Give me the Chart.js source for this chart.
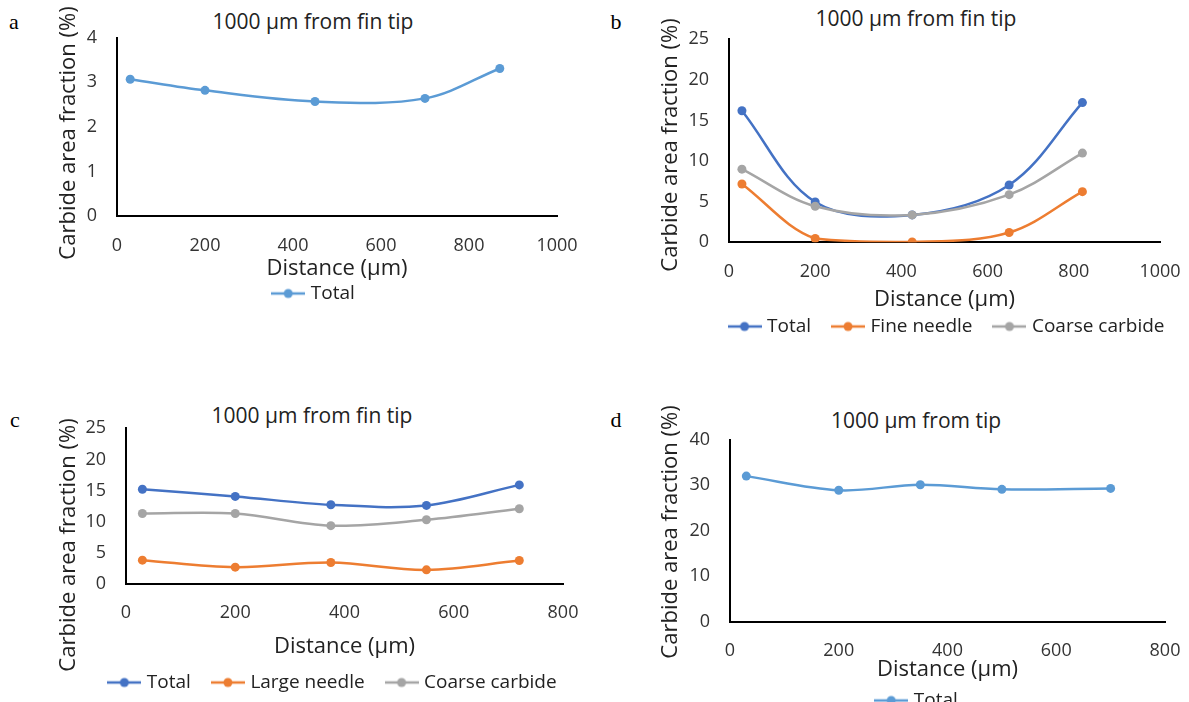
<!DOCTYPE html>
<html>
<head>
<meta charset="utf-8">
<script src="https://cdn.jsdelivr.net/npm/chart.js@4"></script>
<style>
  html, body { margin: 0; padding: 0; background: #fff; overflow: hidden; }
  body { width: 1189px; height: 702px; position: relative; }
  canvas { position: absolute; }
  .tag { position: absolute; font-family: "Liberation Serif", serif; font-size: 22px; line-height: 24px; color: #000; transform: translateX(-50%); }
  .ttl { position: absolute; font-family: "Open Sans", sans-serif; font-size: 21px; line-height: 24px; color: #222; white-space: nowrap; transform: translateX(-50%); }
  .ytl { position: absolute; font-family: "Open Sans", sans-serif; font-size: 22px; line-height: 26px; color: #222; white-space: nowrap; transform: translate(-50%, -50%) rotate(-90deg); z-index: 2; }
</style>
</head>
<body>
<div class="tag" style="left:14px;top:10px">a</div>
<div class="tag" style="left:616px;top:10px">b</div>
<div class="tag" style="left:15px;top:408px">c</div>
<div class="tag" style="left:616px;top:408px">d</div>
<div class="ttl" style="left:313px;top:9px">1000 µm from fin tip</div>
<div class="ttl" style="left:916px;top:6px">1000 µm from fin tip</div>
<div class="ttl" style="left:312px;top:403px">1000 µm from fin tip</div>
<div class="ttl" style="left:916px;top:408px">1000 µm from tip</div>
<div class="ytl" style="left:66px;top:133px">Carbide area fraction (%)</div>
<div class="ytl" style="left:668px;top:145px">Carbide area fraction (%)</div>
<div class="ytl" style="left:66px;top:545px">Carbide area fraction (%)</div>
<div class="ytl" style="left:668px;top:532px">Carbide area fraction (%)</div>
<canvas id="chartA"></canvas>
<canvas id="chartB"></canvas>
<canvas id="chartC"></canvas>
<canvas id="chartD"></canvas>
<script>
// ---- data ----
const distA = [30, 200, 450, 700, 870];
const totalA = [3.07, 2.82, 2.57, 2.64, 3.31];
const xTicksA = [0, 200, 400, 600, 800, 1000];
const yTicksA = [0, 1, 2, 3, 4];

const distB = [30, 200, 425, 650, 820];
const totalB = [16.2, 4.96, 3.36, 7.05, 17.2];
const fineB = [7.17, 0.45, 0.04, 1.19, 6.23];
const coarseB = [9.0, 4.43, 3.36, 5.86, 10.98];
const xTicksB = [0, 200, 400, 600, 800, 1000];
const yTicksB = [0, 5, 10, 15, 20, 25];

const distC = [30, 200, 375, 550, 720];
const totalC = [15.2, 14.05, 12.7, 12.6, 15.9];
const largeC = [3.8, 2.67, 3.42, 2.24, 3.74];
const coarseC = [11.3, 11.3, 9.35, 10.3, 12.07];
const xTicksC = [0, 200, 400, 600, 800];
const yTicksC = [0, 5, 10, 15, 20, 25];

const distD = [30, 200, 350, 500, 700];
const totalD = [32.0, 28.9, 30.1, 29.1, 29.3];
const xTicksD = [0, 200, 400, 600, 800];
const yTicksD = [0, 10, 20, 30, 40];

const BLUE = "#4472C4", ORANGE = "#ED7D31", GREY = "#A5A5A5", LIGHT = "#5B9BD5";
const FONT = "Open Sans";
const TICK_SIZE = 18, AXIS_SIZE = 22, LEG_SIZE = 19, LEG_PAD = 24;

// little line-with-dot icon for the legend (Excel style)
function legendIcon(color) {
  const c = document.createElement("canvas");
  c.width = 34; c.height = 12;
  const g = c.getContext("2d");
  g.strokeStyle = color; g.lineWidth = 2.5;
  g.beginPath(); g.moveTo(0, 6); g.lineTo(34, 6); g.stroke();
  g.fillStyle = color;
  g.beginPath(); g.arc(17, 6, 4.5, 0, Math.PI * 2); g.fill();
  return c;
}

function series(label, xs, ys, color, order) {
  return {
    label: label,
    data: xs.map((x, i) => ({ x: x, y: ys[i] })),
    borderColor: color,
    backgroundColor: color,
    pointBackgroundColor: color,
    pointBorderColor: color,
    pointBorderWidth: 0,
    pointRadius: 4.5,
    borderWidth: 2.5,
    tension: 0.35,
    fill: false,
    order: order
  };
}

// g holds page positions of plot box, labels and legend
function panel(id, g, datasets, xTicks, yTicks) {
  const canvas = document.getElementById(id);
  const W = 2 * (g.legendX - g.left);
  const legTop = g.legendY - g.top - LEG_PAD - LEG_SIZE / 2;
  const H = legTop + LEG_SIZE + LEG_PAD + 10;
  const xH = legTop - (g.plotBottom - g.top);
  const halfAxis = AXIS_SIZE * 1.2 / 2;
  canvas.width = W; canvas.height = H;
  canvas.style.left = g.left + "px"; canvas.style.top = g.top + "px";

  new Chart(canvas.getContext("2d"), {
    type: "line",
    data: { datasets: datasets },
    options: {
      responsive: false,
      animation: false,
      devicePixelRatio: 1,
      events: [],
      layout: { padding: { left: 0, right: 0, top: g.plotTop - g.top, bottom: 0 } },
      plugins: {
        title: { display: false },
        tooltip: { enabled: false },
        legend: {
          display: true,
          position: "bottom",
          labels: {
            usePointStyle: true,
            pointStyleWidth: 26,
            padding: LEG_PAD,
            color: "#222",
            font: { family: FONT, size: LEG_SIZE },
            generateLabels: chart => chart.data.datasets.map((ds, i) => ({
              text: ds.label,
              pointStyle: legendIcon(ds.borderColor),
              fillStyle: ds.borderColor,
              strokeStyle: ds.borderColor,
              lineWidth: 0,
              hidden: false,
              datasetIndex: i,
              fontColor: "#222"
            }))
          }
        }
      },
      scales: {
        x: {
          type: "linear",
          min: xTicks[0],
          max: xTicks[xTicks.length - 1],
          afterBuildTicks: s => { s.ticks = xTicks.map(v => ({ value: v })); },
          afterFit: s => { s.height = xH; },
          grid: { display: false, drawTicks: false },
          border: { display: true, color: "#000", width: 2 },
          ticks: {
            padding: g.tickY - g.plotBottom - TICK_SIZE * 0.6,
            color: "#333", font: { family: FONT, size: TICK_SIZE },
            maxRotation: 0, autoSkip: false,
            callback: v => String(v)
          },
          title: {
            display: true, text: "Distance (µm)", color: "#222",
            font: { family: FONT, size: AXIS_SIZE },
            padding: { top: 0, bottom: legTop - (g.xTitleY - g.top) - halfAxis }
          }
        },
        y: {
          type: "linear",
          position: "left",
          min: yTicks[0],
          max: yTicks[yTicks.length - 1],
          afterBuildTicks: s => { s.ticks = yTicks.map(v => ({ value: v })); },
          afterFit: s => { s.width = g.plotLeft - g.left; },
          grid: { display: false, drawTicks: false },
          border: { display: true, color: "#000", width: 2 },
          ticks: { padding: 20, color: "#333", font: { family: FONT, size: TICK_SIZE }, callback: v => String(v) },
          title: { display: false }
        },
        // empty right box that keeps the plot off the right edge
        spacer: {
          type: "linear",
          position: "right",
          display: true,
          afterFit: s => { s.width = g.left + W - g.plotRight; },
          grid: { display: false },
          border: { display: false },
          ticks: { display: false }
        }
      }
    }
  });
}

panel("chartA",
  { left: 0, top: 0, plotLeft: 117, plotRight: 557, plotTop: 37.7, plotBottom: 216.7,
    tickY: 246, xTitleY: 269.5, legendX: 315, legendY: 294 },
  [series("Total", distA, totalA, LIGHT, 1)], xTicksA, yTicksA);

panel("chartB",
  { left: 600, top: 0, plotLeft: 729, plotRight: 1160, plotTop: 39.3, plotBottom: 242.7,
    tickY: 272, xTitleY: 300, legendX: 948, legendY: 327 },
  [series("Total", distB, totalB, BLUE, 3),
   series("Fine needle", distB, fineB, ORANGE, 2),
   series("Coarse carbide", distB, coarseB, GREY, 1)], xTicksB, yTicksB);

panel("chartC",
  { left: 0, top: 395, plotLeft: 126, plotRight: 563, plotTop: 428.3, plotBottom: 584.3,
    tickY: 613, xTitleY: 647, legendX: 334, legendY: 683 },
  [series("Total", distC, totalC, BLUE, 3),
   series("Large needle", distC, largeC, ORANGE, 2),
   series("Coarse carbide", distC, coarseC, GREY, 1)], xTicksC, yTicksC);

panel("chartD",
  { left: 600, top: 395, plotLeft: 730, plotRight: 1165, plotTop: 439.7, plotBottom: 622.3,
    tickY: 651, xTitleY: 670, legendX: 918, legendY: 701 },
  [series("Total", distD, totalD, LIGHT, 1)], xTicksD, yTicksD);
</script>
</body>
</html>
